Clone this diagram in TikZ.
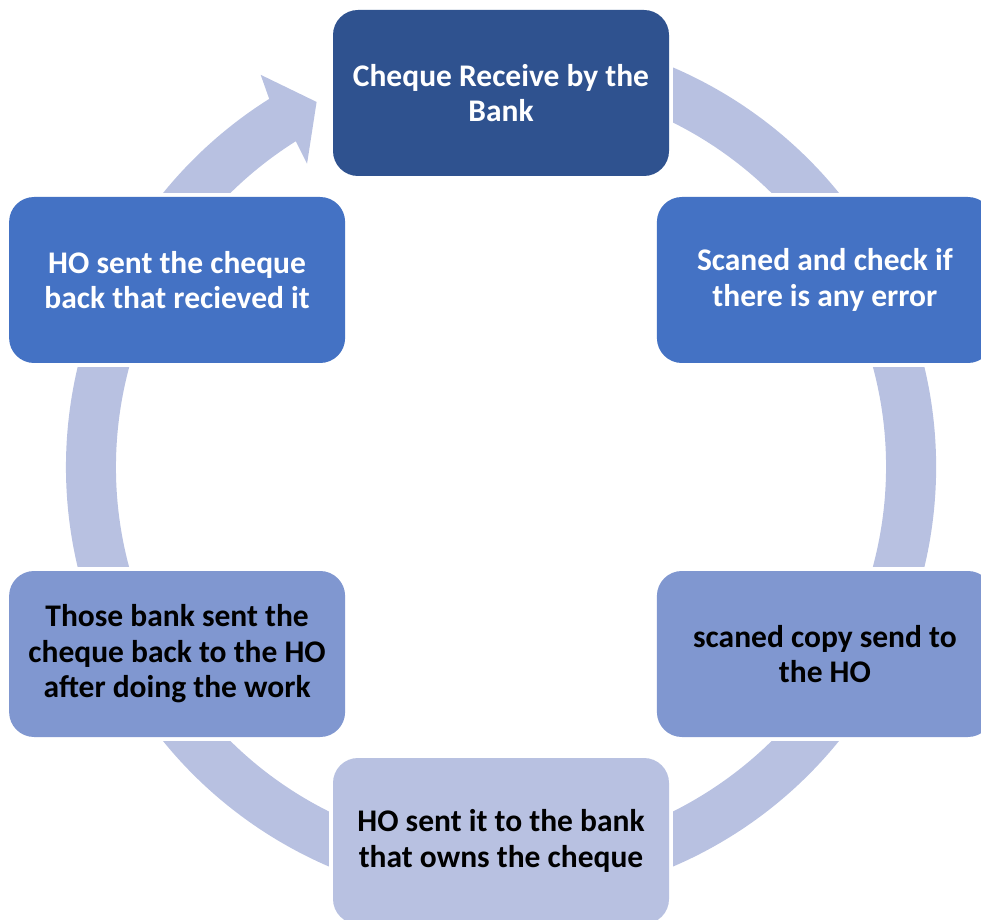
\documentclass[tikz,border=0pt]{standalone}
\usepackage{fontspec}
\setmainfont{Carlito}
\definecolor{cTop}{RGB}{47,82,143}
\definecolor{cMid}{RGB}{68,114,196}
\definecolor{cLow}{RGB}{128,151,208}
\definecolor{cRing}{RGB}{184,193,225}
\tikzset{
  stepbox/.style={rounded corners=25pt, minimum width=336pt, minimum height=166pt,
    align=center, inner sep=0pt, font=\fontsize{31.5}{35.5}\selectfont\bfseries},
  gapbox/.style={fill=white}
}
\begin{document}
\begin{tikzpicture}[x=1pt,y=1pt]
\useasboundingbox (0,0) rectangle (981,919);
\coordinate (c) at (501,452);
\coordinate (p1) at ([shift={(90:374pt)}]c);
\coordinate (p2) at ([shift={(30:374pt)}]c);
\coordinate (p3) at ([shift={(-30:374pt)}]c);
\coordinate (p4) at ([shift={(-90:374pt)}]c);
\coordinate (p5) at ([shift={(-150:374pt)}]c);
\coordinate (p6) at ([shift={(150:374pt)}]c);
% ring
\fill[cRing] ([shift={(110:435pt)}]c) arc[start angle=110, end angle=-238, radius=435pt]
  -- ([shift={(-238:385pt)}]c) arc[start angle=-238, end angle=110, radius=385pt] -- cycle;
% arrow head
\fill[cRing] ([shift={(122.2:435pt)}]c) -- ([shift={(121.5:460pt)}]c) -- ([shift={(116.8:409pt)}]c)
  -- ([shift={(122.6:360pt)}]c) -- ([shift={(122.2:385pt)}]c) -- cycle;
% white gaps
\foreach \p in {p1,p2,p3,p4,p5,p6}
  \fill[gapbox] ([shift={(-172pt,-87pt)}]\p) rectangle ([shift={(172pt,87pt)}]\p);
% boxes
\node[stepbox, fill=cTop, text=white] (n1) at (p1) {Cheque Receive by the\\Bank};
\node[stepbox, fill=cMid, text=white] (n2) at (p2) {Scaned and check if\\there is any error};
\node[stepbox, fill=cLow, text=black] (n3) at (p3) {scaned copy send to\\the HO};
\node[stepbox, fill=cRing, text=black] (n4) at (p4) {HO sent it to the bank\\that owns the cheque};
\node[stepbox, fill=cLow, text=black] (n5) at (p5) {Those bank sent the\\cheque back to the HO\\after doing the work};
\node[stepbox, fill=cMid, text=white] (n6) at (p6) {HO sent the cheque\\back that recieved it};
\end{tikzpicture}
\end{document}
